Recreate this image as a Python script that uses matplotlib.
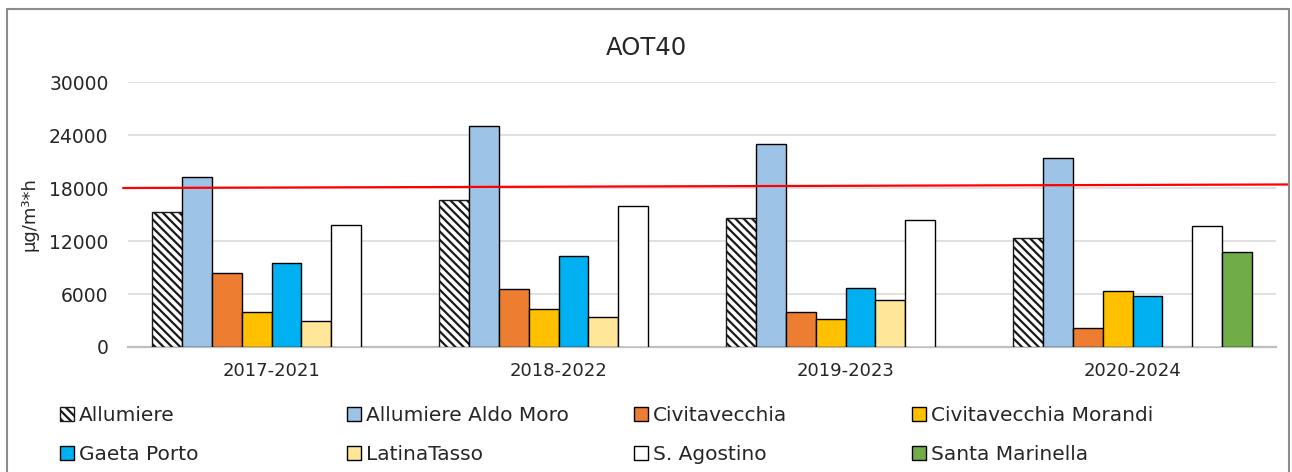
#!/usr/bin/env python3

import matplotlib
matplotlib.use("Agg")
import matplotlib.pyplot as plt
import matplotlib.transforms as mtransforms
from matplotlib.patches import Rectangle
import numpy as np

periods = ["2017-2021", "2018-2022", "2019-2023", "2020-2024"]

stations = ["Allumiere", "Allumiere Aldo Moro", "Civitavecchia",
            "Civitavecchia Morandi", "Gaeta Porto", "LatinaTasso",
            "S. Agostino", "Santa Marinella"]

allumiere = [15270, 16620, 14590, 12370]
allumiere_aldo_moro = [19280, 25000, 23010, 21350]
civitavecchia = [8360, 6590, 3940, 2170]
civitavecchia_morandi = [3940, 4280, 3190, 6360]
gaeta_porto = [9490, 10330, 6700, 5800]
latina_tasso = [2970, 3340, 5300, np.nan]
s_agostino = [13840, 15910, 14360, 13680]
santa_marinella = [np.nan, np.nan, np.nan, 10780]

# target value line (drawn slightly sloped, left and right ends)
target_line = [18000, 18400]

series = [allumiere, allumiere_aldo_moro, civitavecchia, civitavecchia_morandi,
          gaeta_porto, latina_tasso, s_agostino, santa_marinella]
colors = ["white", "#9DC3E6", "#ED7D31", "#FFC000",
          "#00B0F0", "#FFE699", "white", "#70AD47"]


def main():
    plt.rcParams["font.family"] = ["DejaVu Sans"]
    plt.rcParams["hatch.linewidth"] = 1.6

    W, H = 1292, 472
    fig = plt.figure(figsize=(W / 100, H / 100), dpi=100)
    ax = fig.add_axes([128 / W, 1 - 347 / H, (1276 - 128) / W, (347 - 82) / H])

    x = np.arange(len(periods))
    width = 0.104
    handles = []
    for i, (vals, col) in enumerate(zip(series, colors)):
        off = (i - 3.5) * width
        if i == 0:
            b = ax.bar(x + off, vals, width, color="white", edgecolor="#1a1a1a",
                       hatch="\\\\\\\\", linewidth=1, label=stations[i], zorder=3)
        else:
            b = ax.bar(x + off, vals, width, color=col, edgecolor="black",
                       linewidth=1, label=stations[i], zorder=3)
        handles.append(b)

    ax.set_xlim(-0.5, len(periods) - 0.5)
    ax.set_ylim(0, 30000)
    ax.set_yticks(np.arange(0, 30001, 6000))
    ax.set_xticks(x)
    ax.set_xticklabels(periods)
    ax.tick_params(axis="both", length=0, labelsize=13, colors="#262626")
    ax.tick_params(axis="y", labelsize=13.5, pad=14)
    ax.tick_params(axis="x", pad=11)
    ax.yaxis.grid(True, color="#d9d9d9", linewidth=1.1, zorder=0)
    ax.set_axisbelow(True)
    for s in ["top", "right", "left"]:
        ax.spines[s].set_visible(False)
    ax.spines["bottom"].set_color("#bfbfbf")
    ax.spines["bottom"].set_linewidth(1.6)

    ax.set_ylabel("µg/m³*h", fontsize=13, color="#262626")
    ax.yaxis.set_label_coords(-0.078, 0.5)

    # red threshold line running across the whole chart width
    trans = mtransforms.blended_transform_factory(ax.transAxes, ax.transData)
    ax.plot([-0.004, 1.011], target_line, color="#FF0000", linewidth=1.6,
            transform=trans, clip_on=False, zorder=4)

    fig.text(0.5, 1 - 48 / H, "AOT40", ha="center", va="center",
             fontsize=17.5, color="#262626")

    # legend: four evenly spaced columns, two rows
    col_x = [60, 347, 634, 912]
    for c in range(4):
        fig.legend(handles=[handles[c], handles[c + 4]],
                   labels=[stations[c], stations[c + 4]],
                   loc="upper left", bbox_to_anchor=(col_x[c] / W, 1 - 406 / H),
                   frameon=False, fontsize=14.5, handlelength=0.7,
                   handleheight=0.7, handletextpad=0.25, labelspacing=0.98,
                   borderpad=0, borderaxespad=0, labelcolor="#262626")

    # chart area border
    fig.patches.append(Rectangle((7 / W, -0.1), (1289 - 7) / W, 1.1 - 9 / H,
                                 transform=fig.transFigure, fill=False,
                                 edgecolor="#8c8c8c", linewidth=1.5))

    fig.savefig("out.png", dpi=100)


if __name__ == "__main__":
    main()
